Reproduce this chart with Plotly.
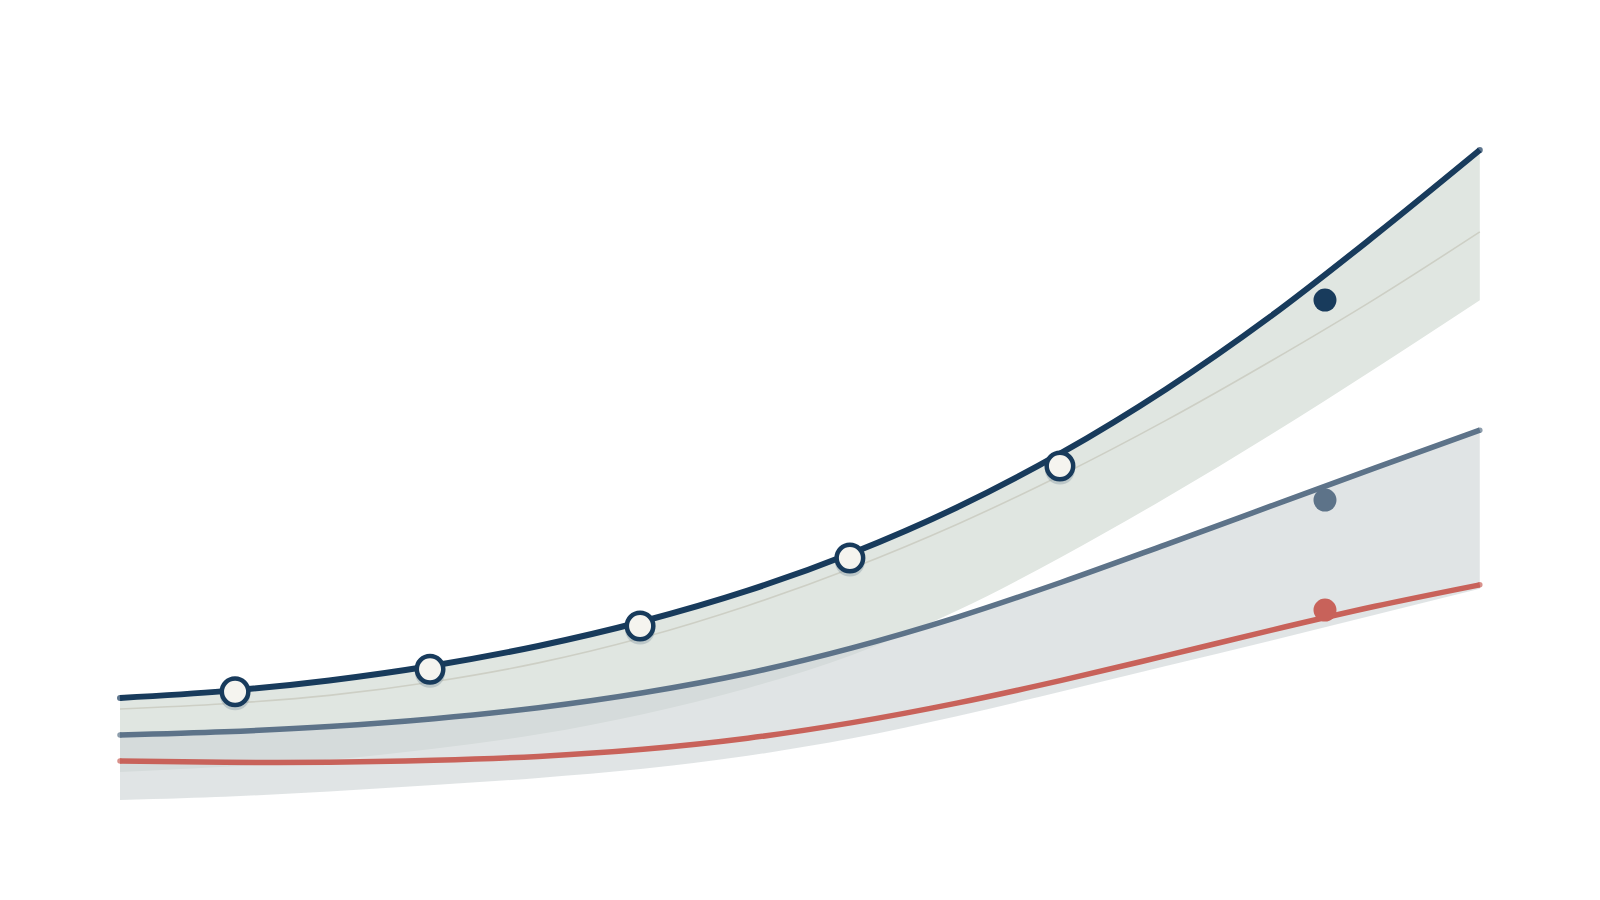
import plotly.graph_objects as go

# ---- data ----
x = [0, 5, 10, 15, 20, 25, 30, 35, 40, 45, 50, 55, 60, 65]
upper_line = [15.7, 16.75, 18.4, 20.7, 23.7, 27.5, 32.2, 38.0, 45.0, 53.4, 63.2, 74.4, 86.9, 100.0]
median_line = [14.0, 14.8, 16.1, 18.2, 21.1, 25.0, 29.9, 35.7, 42.4, 50.0, 58.4, 67.5, 77.1, 87.4]
band1_low = [4.3, 5.1, 6.2, 7.9, 10.1, 13.2, 17.2, 22.3, 29.1, 37.4, 46.5, 56.2, 66.4, 76.9]
slate_line = [10.0, 10.5, 11.3, 12.5, 14.2, 16.5, 19.5, 23.4, 28.1, 33.5, 39.3, 45.2, 51.1, 56.9]
red_line = [6.0, 5.8, 5.8, 6.1, 6.7, 7.8, 9.5, 11.9, 14.9, 18.4, 22.2, 26.1, 29.8, 33.1]
band2_low = [0.0, 0.5, 1.3, 2.3, 3.4, 4.8, 6.8, 9.5, 12.9, 16.7, 20.6, 24.5, 28.5, 32.5]

obs_x = [5.5, 14.82, 24.86, 34.89, 44.93]
obs_y = [16.66, 20.11, 26.77, 37.23, 51.38]

dot_x = [57.6, 57.6, 57.6]
dot_y = [76.92, 46.15, 29.23]

NAVY = "#183b5c"
SLATE = "#5d7389"
RED = "#c8625a"

fig = go.Figure()

# band 1 (green-grey)
fig.add_trace(go.Scatter(x=x, y=band1_low, mode="lines", line=dict(width=0, shape="spline"),
                         hoverinfo="skip"))
fig.add_trace(go.Scatter(x=x, y=upper_line, mode="lines", line=dict(width=0, shape="spline"),
                         fill="tonexty", fillcolor="rgb(224,230,225)", hoverinfo="skip"))
# band 2 (grey-blue)
fig.add_trace(go.Scatter(x=x, y=band2_low, mode="lines", line=dict(width=0, shape="spline"),
                         hoverinfo="skip"))
fig.add_trace(go.Scatter(x=x, y=slate_line, mode="lines", line=dict(width=0, shape="spline"),
                         fill="tonexty", fillcolor="rgba(207,213,215,0.65)", hoverinfo="skip"))

# thin median line
fig.add_trace(go.Scatter(x=x, y=median_line, mode="lines",
                         line=dict(color="#cdcfc5", width=1.6, shape="spline"), hoverinfo="skip"))

n = len(x)
def caps(w):
    return [w] + [0] * (n - 2) + [w]

# main lines
fig.add_trace(go.Scatter(x=x, y=slate_line, mode="lines+markers",
                         line=dict(color=SLATE, width=5.5, shape="spline"),
                         marker=dict(color=SLATE, size=caps(5.5), line=dict(width=0))))
fig.add_trace(go.Scatter(x=x, y=red_line, mode="lines+markers",
                         line=dict(color=RED, width=5.5, shape="spline"),
                         marker=dict(color=RED, size=caps(5.5), line=dict(width=0))))
fig.add_trace(go.Scatter(x=x, y=upper_line, mode="lines+markers",
                         line=dict(color=NAVY, width=6, shape="spline"),
                         marker=dict(color=NAVY, size=caps(6), line=dict(width=0))))

# marker shadows
fig.add_trace(go.Scatter(x=obs_x, y=[v - 0.55 for v in obs_y], mode="markers",
                         marker=dict(size=30, color="rgba(120,140,155,0.35)", line=dict(width=0)),
                         hoverinfo="skip"))
# open markers
fig.add_trace(go.Scatter(x=obs_x, y=obs_y, mode="markers",
                         marker=dict(size=26.5, color="#f5f4ef", line=dict(color=NAVY, width=4.5))))

# filled dots
fig.add_trace(go.Scatter(x=dot_x, y=dot_y, mode="markers",
                         marker=dict(size=23, color=[NAVY, SLATE, RED], line=dict(width=0))))

fig.update_layout(
    width=1600, height=900,
    margin=dict(l=0, r=0, t=0, b=0),
    paper_bgcolor="white", plot_bgcolor="white",
    showlegend=False,
    xaxis=dict(range=[-120 / 20.92, 1480 / 20.92], visible=False, showgrid=False, zeroline=False),
    yaxis=dict(range=[-100 / 6.5, 800 / 6.5], visible=False, showgrid=False, zeroline=False),
)

fig.write_html("out.html", config={"displayModeBar": False},
               post_script="document.body.style.margin='0';")
